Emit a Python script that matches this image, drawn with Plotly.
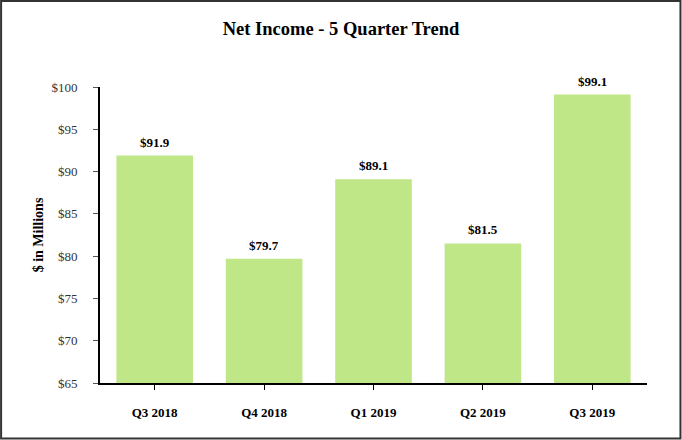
import plotly.graph_objects as go

categories = ["Q3 2018", "Q4 2018", "Q1 2019", "Q2 2019", "Q3 2019"]
values = [91.9, 79.7, 89.1, 81.5, 99.1]
value_labels = ["$91.9", "$79.7", "$89.1", "$81.5", "$99.1"]
y_ticks = [65, 70, 75, 80, 85, 90, 95, 100]
y_tick_labels = ["$65", "$70", "$75", "$80", "$85", "$90", "$95", "$100"]

W, H = 682, 440
ml, mr, mt, mb = 100, 34.5, 87, 57

fig = go.Figure(go.Bar(
    x=categories, y=values,
    marker=dict(color="#bfe687", line=dict(width=0)),
))

for c, v, t in zip(categories, values, value_labels):
    fig.add_annotation(x=c, y=v, text="<b>" + t + "</b>", showarrow=False,
                       yanchor="bottom", yshift=4,
                       font=dict(family="Liberation Serif", size=13, color="#000000"))

pw = W - ml - mr
ph = H - mt - mb
fig.add_shape(type="rect", xref="paper", yref="paper",
              x0=(-ml + 1) / pw, x1=(W - ml - 1) / pw,
              y0=(-mb + 1.5) / ph, y1=(H - mb - 1) / ph,
              line=dict(color="#333333", width=2), fillcolor="rgba(0,0,0,0)", layer="above")

fig.update_layout(
    width=W, height=H,
    margin=dict(l=ml, r=mr, t=mt, b=mb),
    paper_bgcolor="white", plot_bgcolor="white",
    bargap=0.3,
    showlegend=False,
    title=dict(text="<b>Net Income - 5 Quarter Trend</b>", x=0.5, xref="container", xanchor="center",
               y=1 - 29 / H, yanchor="middle", yref="container",
               font=dict(family="Liberation Serif", size=18.5, color="#000000")),
    font=dict(family="Liberation Serif", color="#000000"),
    xaxis=dict(showline=True, linecolor="#000000", linewidth=2, ticks="outside", ticklen=5,
               tickcolor="#000000", tickwidth=1, showgrid=False,
               tickfont=dict(family="Liberation Serif", size=13, color="#000000", weight="bold"),
               ticklabelstandoff=11),
    yaxis=dict(range=[65, 100], tickvals=y_ticks, ticktext=y_tick_labels,
               showline=True, linecolor="#000000", linewidth=2, ticks="outside", ticklen=5,
               tickcolor="#555555", tickwidth=1, showgrid=False, zeroline=False,
               tickfont=dict(family="Liberation Serif", size=13, color="#333333"),
               ticklabelstandoff=13,
               title=dict(text="<b>$ in Millions</b>", standoff=5,
                          font=dict(family="Liberation Serif", size=14, color="#000000"))),
)

fig.write_html("out.html")
